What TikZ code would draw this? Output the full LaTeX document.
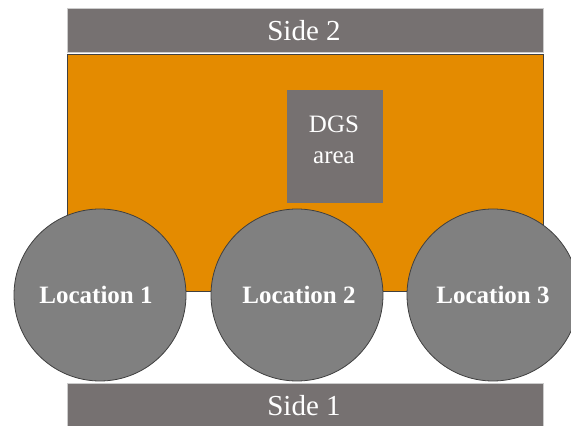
\documentclass[tikz,border=0pt]{standalone}
\usepackage{fontspec}
\setmainfont{Liberation Serif}
\newfontfamily\tnr{Liberation Serif}
\definecolor{bargray}{HTML}{767171}
\definecolor{circgray}{HTML}{808080}
\definecolor{orangefill}{HTML}{E48B00}
\definecolor{edgedark}{HTML}{404040}
\tikzset{
  sidebar/.style={rectangle, fill=bargray, draw=black!20, line width=0.8pt, minimum width=476pt, minimum height=44pt, inner sep=0pt},
  sidetext/.style={text=white, font=\tnr\fontsize{29}{35}\selectfont, anchor=base, inner sep=0pt},
  loc/.style={circle, fill=circgray, draw=edgedark, line width=0.8pt, minimum size=172pt, inner sep=0pt},
  loctext/.style={text=white, font=\tnr\bfseries\fontsize{25}{30}\selectfont, anchor=base, inner sep=0pt},
  zone/.style={rectangle, fill=orangefill, draw=edgedark, line width=0.8pt, minimum width=476pt, minimum height=237pt, inner sep=0pt},
  dgsbox/.style={rectangle, fill=bargray, minimum width=96pt, minimum height=113pt, inner sep=0pt},
  dgstext/.style={text=white, font=\tnr\fontsize{25}{31}\selectfont, anchor=base, inner sep=0pt}
}
\begin{document}
\begin{tikzpicture}[x=1pt,y=1pt]
\useasboundingbox (0,0) rectangle (571,426);
\clip (0,0) rectangle (571,426);
\node[sidebar] (side2) at (305,396) {};
\node[sidetext] (side2text) at (304,385) {Side 2};
\node[sidebar, minimum height=48pt] (side1) at (305,19) {};
\node[sidetext] (side1text) at (304,10) {Side 1};
\node[zone] (zone) at (305,253.5) {};
\node[dgsbox] (dgs) at (335,279.5) {};
\node[dgstext] (dgsa) at (334,293) {DGS};
\node[dgstext] (dgsb) at (334,262) {area};
\node[loc] (loc1) at (100,131) {};
\node[loc] (loc2) at (297,131) {};
\node[loc] (loc3) at (493,131) {};
\node[loctext] (l1) at (96,122) {Location 1};
\node[loctext] (l2) at (299,122) {Location 2};
\node[loctext] (l3) at (493,122) {Location 3};
\end{tikzpicture}
\end{document}
